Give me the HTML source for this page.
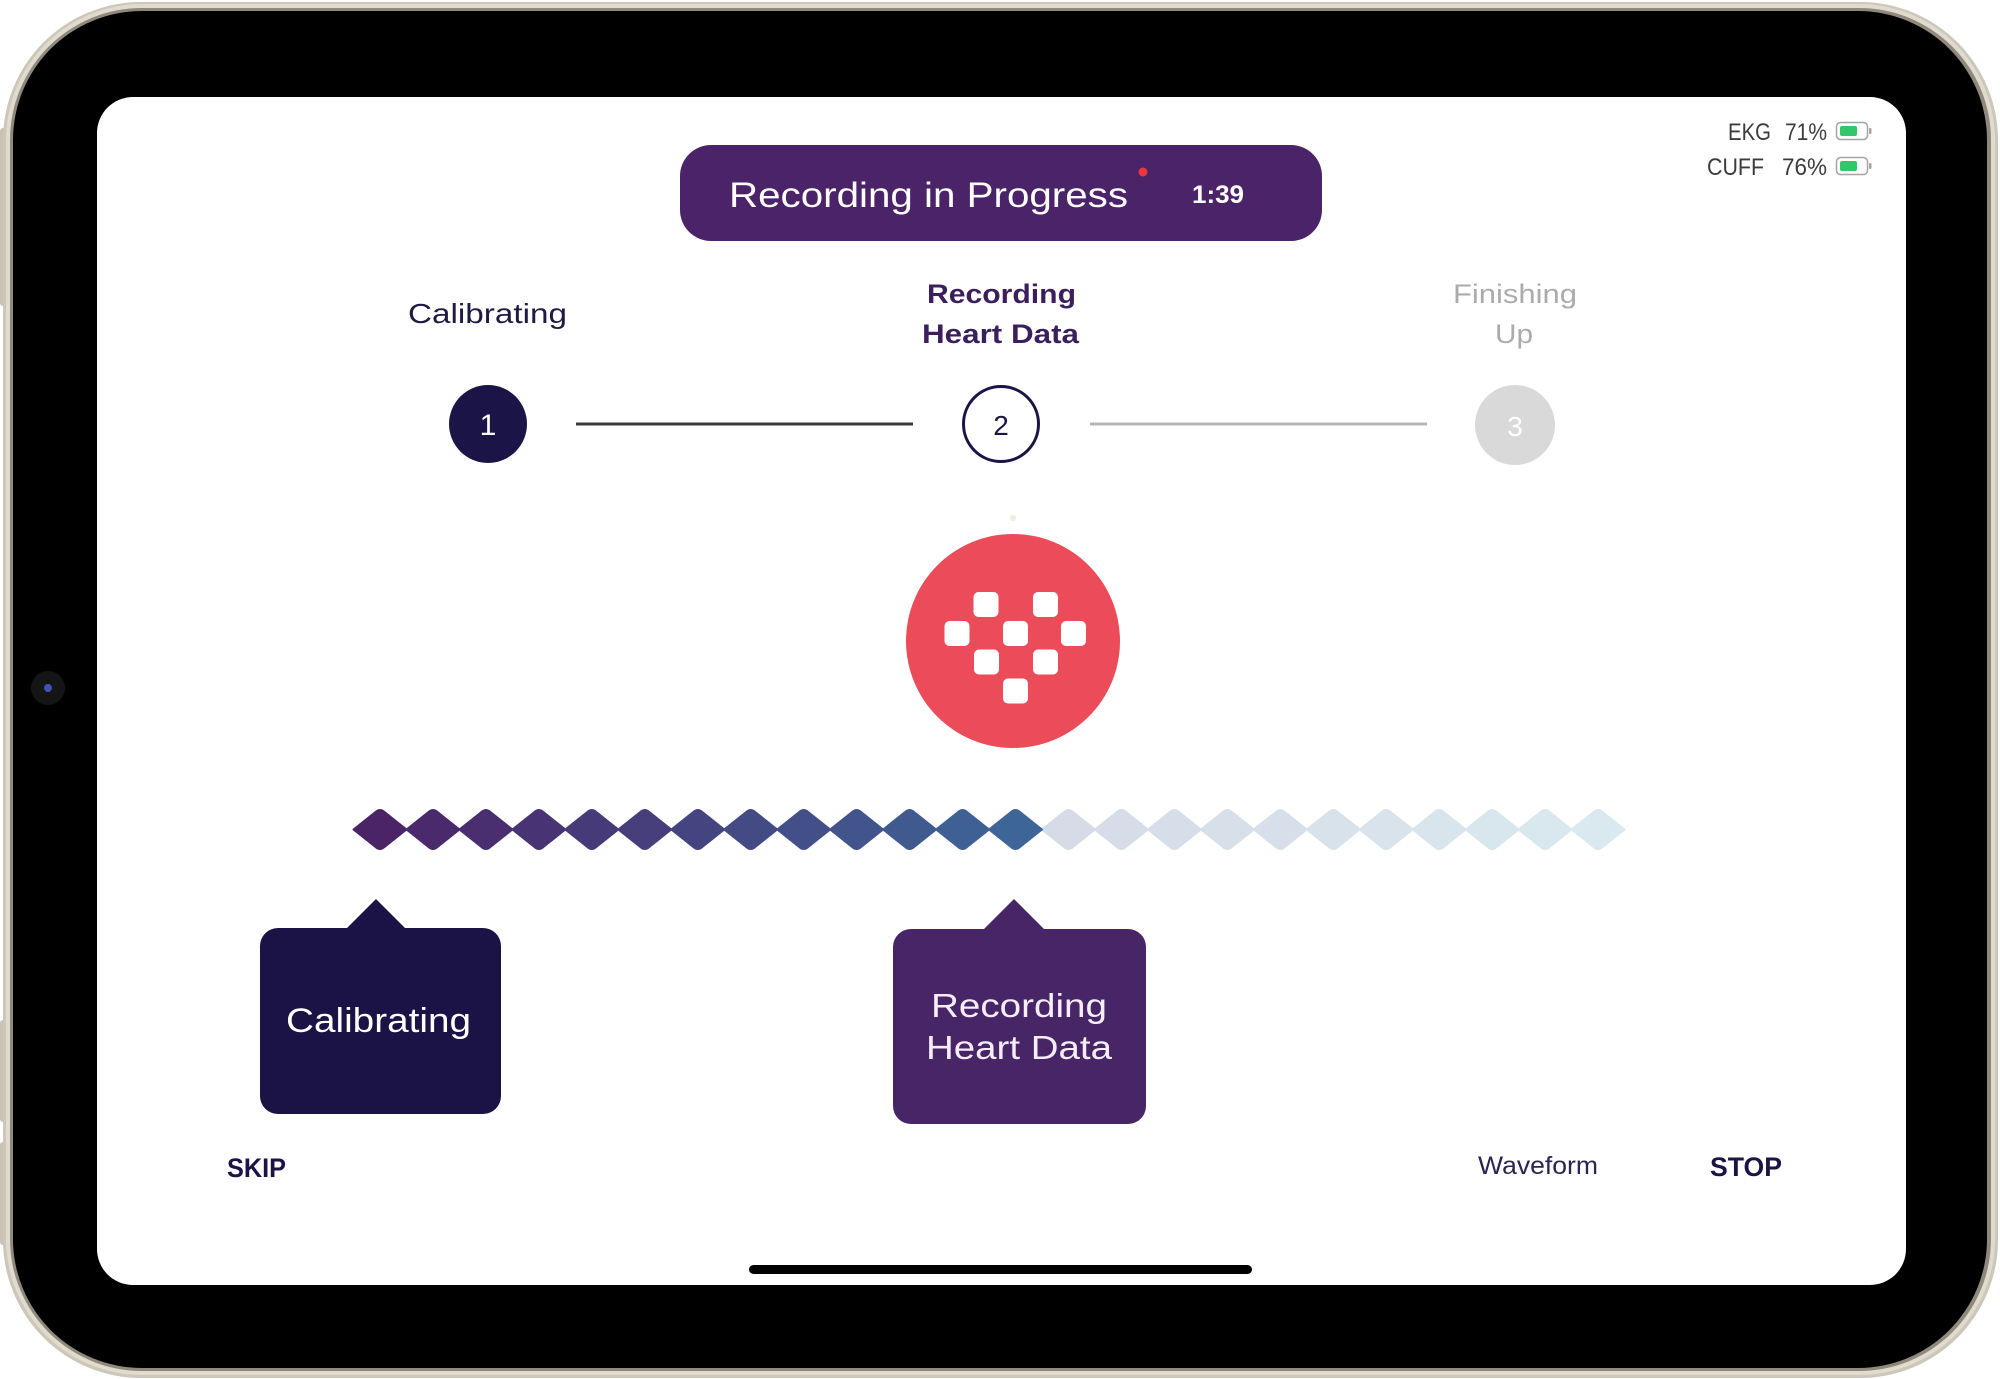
<!DOCTYPE html>
<html><head><meta charset="utf-8"><style>
html,body{margin:0;padding:0;background:#fff;}
svg{display:block;}
text{font-family:"Liberation Sans",Arial,sans-serif;}
</style></head><body>
<svg width="2000" height="1379" viewBox="0 0 2000 1379" xmlns="http://www.w3.org/2000/svg">
<defs>
<path id="dm" d="M-26.5,0 L-4.5,-17.5 Q0,-21.5 4.5,-17.5 L26.5,0 L4.5,17.5 Q0,21.5 -4.5,17.5 Z"/>
</defs>
<rect width="2000" height="1379" fill="#fff"/>
<!-- side buttons -->
<rect x="0" y="128" width="9" height="178" rx="3" fill="#c9c3b5"/>
<rect x="0" y="1020" width="9" height="102" rx="3" fill="#c9c3b5"/>
<rect x="0" y="1142" width="9" height="103" rx="3" fill="#c9c3b5"/>
<!-- device frame -->
<rect x="3" y="2" width="1995" height="1376" rx="138" fill="#cdc7b9"/>
<rect x="6" y="4" width="1989" height="1371" rx="136" fill="#e0dbcf"/>
<rect x="10" y="8" width="1981" height="1363" rx="132" fill="#8f897c"/>
<rect x="13" y="11" width="1974" height="1357" rx="129" fill="#000"/>
<!-- camera -->
<circle cx="48" cy="688" r="17" fill="#151515"/>
<circle cx="48" cy="688" r="4" fill="#4252b4"/>
<!-- screen -->
<rect x="97" y="97" width="1809" height="1188" rx="36" fill="#fff"/>

<!-- header pill -->
<rect x="680" y="145" width="642" height="96" rx="31" fill="#4b2369"/>
<text x="729" y="207" font-size="35" fill="#fff" textLength="399" lengthAdjust="spacingAndGlyphs">Recording in Progress</text>
<circle cx="1143" cy="172" r="4.5" fill="#e8383d"/>
<text x="1192" y="203" font-size="25" font-weight="bold" fill="#fff" textLength="52" lengthAdjust="spacingAndGlyphs">1:39</text>

<!-- battery status -->
<text x="1728" y="140" font-size="24" fill="#3c3c3c" textLength="43" lengthAdjust="spacingAndGlyphs">EKG</text>
<text x="1785" y="140" font-size="24" fill="#3c3c3c" textLength="42" lengthAdjust="spacingAndGlyphs">71%</text>
<rect x="1836.5" y="122.5" width="31" height="17" rx="4" fill="none" stroke="#a4a4a4" stroke-width="1.5"/>
<rect x="1840" y="126" width="17" height="10" rx="2" fill="#33c76c"/>
<rect x="1869" y="128" width="2.5" height="6" rx="1" fill="#a4a4a4"/>
<text x="1707" y="175" font-size="24" fill="#3c3c3c" textLength="57" lengthAdjust="spacingAndGlyphs">CUFF</text>
<text x="1782" y="175" font-size="24" fill="#3c3c3c" textLength="45" lengthAdjust="spacingAndGlyphs">76%</text>
<rect x="1836.5" y="157.5" width="31" height="17" rx="4" fill="none" stroke="#a4a4a4" stroke-width="1.5"/>
<rect x="1840" y="161" width="17" height="10" rx="2" fill="#33c76c"/>
<rect x="1869" y="163" width="2.5" height="6" rx="1" fill="#a4a4a4"/>

<!-- step labels -->
<text x="408" y="323" font-size="28" fill="#1e1a44" textLength="159" lengthAdjust="spacingAndGlyphs">Calibrating</text>
<text x="927" y="303" font-size="27" font-weight="bold" fill="#3b1f5c" textLength="149" lengthAdjust="spacingAndGlyphs">Recording</text>
<text x="922" y="343" font-size="27" font-weight="bold" fill="#3b1f5c" textLength="157" lengthAdjust="spacingAndGlyphs">Heart Data</text>
<text x="1453" y="303" font-size="27" fill="#ababab" textLength="124" lengthAdjust="spacingAndGlyphs">Finishing</text>
<text x="1495" y="343" font-size="27" fill="#ababab" textLength="38" lengthAdjust="spacingAndGlyphs">Up</text>

<!-- steps -->
<line x1="576" y1="424" x2="913" y2="424" stroke="#3a3a3a" stroke-width="3"/>
<line x1="1090" y1="424" x2="1427" y2="424" stroke="#b5b5b5" stroke-width="3"/>
<circle cx="488" cy="424" r="39" fill="#1b1446"/>
<text x="488" y="435" font-size="30" fill="#fff" text-anchor="middle">1</text>
<circle cx="1001" cy="424" r="37.5" fill="#fff" stroke="#1b1446" stroke-width="3"/>
<text x="1001" y="435" font-size="28" fill="#1b1446" text-anchor="middle">2</text>
<circle cx="1515" cy="425" r="40" fill="#d9d9d9"/>
<text x="1515" y="436" font-size="28" fill="#fff" text-anchor="middle">3</text>

<!-- heart icon -->
<circle cx="1013" cy="518" r="3" fill="#efeedd"/>
<circle cx="1013" cy="641" r="107" fill="#ec4b5a"/>
<g fill="#fff">
<rect x="973.5" y="592" width="25" height="25" rx="5"/>
<rect x="1033" y="592" width="25" height="25" rx="5"/>
<rect x="944.5" y="621" width="25" height="25" rx="5"/>
<rect x="1003" y="621" width="25" height="25" rx="5"/>
<rect x="1061" y="621" width="25" height="25" rx="5"/>
<rect x="974" y="649.5" width="25" height="25" rx="5"/>
<rect x="1033" y="649.5" width="25" height="25" rx="5"/>
<rect x="1003" y="678.5" width="25" height="25" rx="5"/>
</g>

<!-- diamonds -->
<g stroke-width="2" stroke-linejoin="round">
<use href="#dm" x="380" y="829.5" fill="#4b2468" stroke="#4b2468"/>
<use href="#dm" x="433" y="829.5" fill="#4a296c" stroke="#4a296c"/>
<use href="#dm" x="485.9" y="829.5" fill="#492f70" stroke="#492f70"/>
<use href="#dm" x="538.9" y="829.5" fill="#483474" stroke="#483474"/>
<use href="#dm" x="591.8" y="829.5" fill="#473a78" stroke="#473a78"/>
<use href="#dm" x="644.8" y="829.5" fill="#463f7c" stroke="#463f7c"/>
<use href="#dm" x="697.8" y="829.5" fill="#444480" stroke="#444480"/>
<use href="#dm" x="750.7" y="829.5" fill="#434a84" stroke="#434a84"/>
<use href="#dm" x="803.7" y="829.5" fill="#424f88" stroke="#424f88"/>
<use href="#dm" x="856.6" y="829.5" fill="#41558c" stroke="#41558c"/>
<use href="#dm" x="909.6" y="829.5" fill="#405a90" stroke="#405a90"/>
<use href="#dm" x="962.6" y="829.5" fill="#3f6094" stroke="#3f6094"/>
<use href="#dm" x="1068.5" y="829.5" fill="#d6dbe8" stroke="#d6dbe8"/>
<use href="#dm" x="1121.4" y="829.5" fill="#d6dce8" stroke="#d6dce8"/>
<use href="#dm" x="1174.4" y="829.5" fill="#d6dee9" stroke="#d6dee9"/>
<use href="#dm" x="1227.4" y="829.5" fill="#d7dfe9" stroke="#d7dfe9"/>
<use href="#dm" x="1280.3" y="829.5" fill="#d7e0ea" stroke="#d7e0ea"/>
<use href="#dm" x="1333.3" y="829.5" fill="#d7e2eb" stroke="#d7e2eb"/>
<use href="#dm" x="1386.2" y="829.5" fill="#d8e3eb" stroke="#d8e3eb"/>
<use href="#dm" x="1439.2" y="829.5" fill="#d8e5ec" stroke="#d8e5ec"/>
<use href="#dm" x="1492.2" y="829.5" fill="#d8e6ed" stroke="#d8e6ed"/>
<use href="#dm" x="1545.1" y="829.5" fill="#d9e8ee" stroke="#d9e8ee"/>
<use href="#dm" x="1598.1" y="829.5" fill="#d9e9ef" stroke="#d9e9ef"/>
<use href="#dm" x="1015.5" y="829.5" fill="#3e6598" stroke="#3e6598"/>
</g>

<!-- tooltip 1 -->
<path d="M278,928 L347,928 L376,899 L405,928 L483,928 A18,18 0 0 1 501,946 L501,1096 A18,18 0 0 1 483,1114 L278,1114 A18,18 0 0 1 260,1096 L260,946 A18,18 0 0 1 278,928 Z" fill="#1b1245"/>
<text x="286" y="1032" font-size="34" fill="#fff" textLength="185" lengthAdjust="spacingAndGlyphs">Calibrating</text>

<!-- tooltip 2 -->
<path d="M911,929 L984,929 L1014,899 L1044,929 L1128,929 A18,18 0 0 1 1146,947 L1146,1106 A18,18 0 0 1 1128,1124 L911,1124 A18,18 0 0 1 893,1106 L893,947 A18,18 0 0 1 911,929 Z" fill="#472567"/>
<text x="931" y="1017" font-size="33" fill="#f6edf8" textLength="176" lengthAdjust="spacingAndGlyphs">Recording</text>
<text x="926" y="1059" font-size="33" fill="#f6edf8" textLength="186" lengthAdjust="spacingAndGlyphs">Heart Data</text>

<!-- bottom controls -->
<text x="227" y="1177" font-size="27" font-weight="bold" fill="#1b1446" textLength="59" lengthAdjust="spacingAndGlyphs">SKIP</text>
<text x="1478" y="1174" font-size="25" fill="#2a2550" textLength="120" lengthAdjust="spacingAndGlyphs">Waveform</text>
<text x="1710" y="1176" font-size="27" font-weight="bold" fill="#1b1446" textLength="72" lengthAdjust="spacingAndGlyphs">STOP</text>

<!-- home indicator -->
<rect x="749" y="1265" width="503" height="9" rx="4.5" fill="#000"/>
</svg>
</body></html>
